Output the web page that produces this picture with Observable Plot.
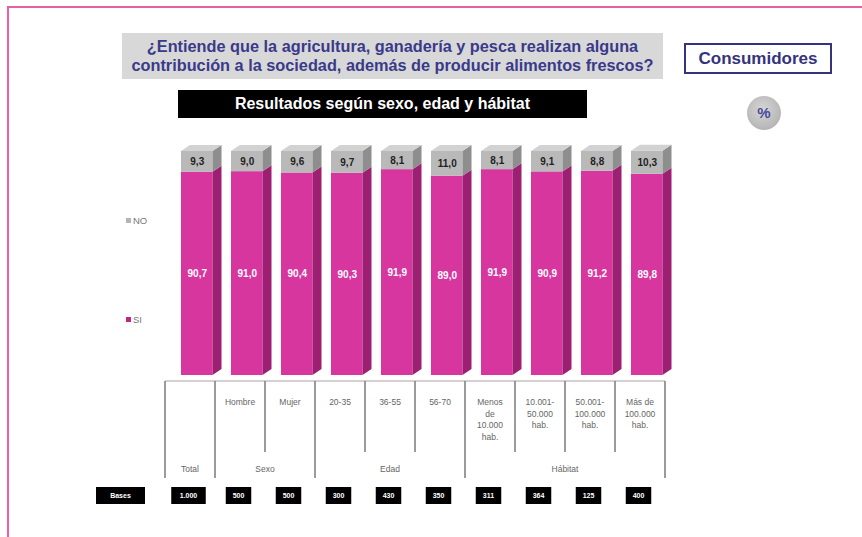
<!DOCTYPE html>
<html><head><meta charset="utf-8">
<script src="https://cdn.jsdelivr.net/npm/d3@7"></script>
<script src="https://cdn.jsdelivr.net/npm/@observablehq/plot@0.6"></script>
<style>
body{margin:0;background:#fff;font-family:"Liberation Sans",Arial,sans-serif;}
#wrap{position:relative;width:862px;height:537px;overflow:hidden;background:#fff;}
#chart{position:absolute;left:0;top:0;}
.abs{position:absolute;}
#frameTop{left:8px;top:6px;width:860px;height:2px;background:#ea5fa3;}
#frameLeft{left:7px;top:6px;width:2px;height:540px;background:#ea5fa3;}
#title{left:122px;top:33px;width:541px;height:46px;background:#d8d8d8;color:#3a3a8a;font-weight:bold;font-size:16.3px;line-height:19px;text-align:center;padding-top:4px;box-sizing:border-box;white-space:nowrap;}
#consum{left:684px;top:43px;width:148px;height:31px;border:2px solid #34347c;box-sizing:border-box;color:#34347c;font-weight:bold;font-size:17px;line-height:27px;text-align:center;}
#pct{left:747px;top:96px;width:34px;height:34px;border-radius:50%;background:radial-gradient(circle at 45% 40%,#d6d6d6,#a9a9a9);color:#4a4a9a;font-weight:bold;font-size:15px;line-height:34px;text-align:center;}
#banner{left:178px;top:90px;width:409px;height:28px;background:#000;color:#fff;font-weight:bold;font-size:16px;line-height:28px;text-align:center;}
.leg{font-size:9.5px;color:#777;}
.sw{display:inline-block;width:5px;height:5px;margin-right:2px;vertical-align:1px;}
</style>
</head><body>
<div id="wrap">
  <div id="chart"></div>
  <div class="abs" id="frameTop"></div>
  <div class="abs" id="frameLeft"></div>
  <div class="abs" id="title">¿Entiende que la agricultura, ganadería y pesca realizan alguna<br>contribución a la sociedad, además de producir alimentos frescos?</div>
  <div class="abs" id="consum">Consumidores</div>
  <div class="abs" id="pct">%</div>
  <div class="abs" id="banner">Resultados según sexo, edad y hábitat</div>
  <div class="abs leg" style="left:126px;top:215px;"><span class="sw" style="background:#b5b5b5"></span>NO</div>
  <div class="abs leg" style="left:126px;top:314px;"><span class="sw" style="background:#c0267f"></span>SI</div>
</div>
<script>
// ---- data ----
const categories = ["Total","Hombre","Mujer","20-35","36-55","56-70","Menos de 10.000 hab.","10.001-50.000 hab.","50.001-100.000 hab.","Más de 100.000 hab."];
const subLabels = ["", "Hombre", "Mujer", "20-35", "36-55", "56-70", "Menos\nde\n10.000\nhab.", "10.001-\n50.000\nhab.", "50.001-\n100.000\nhab.", "Más de\n100.000\nhab."];
const groups = [
  {label: "Total", start: 0, end: 0},
  {label: "Sexo", start: 1, end: 2},
  {label: "Edad", start: 3, end: 5},
  {label: "Hábitat", start: 6, end: 9}
];
const answers = ["SI", "NO"];
const siValues = [90.7, 91.0, 90.4, 90.3, 91.9, 89.0, 91.9, 90.9, 91.2, 89.8];
const noValues = [9.3, 9.0, 9.6, 9.7, 8.1, 11.0, 8.1, 9.1, 8.8, 10.3];
const bases = ["1.000", "500", "500", "300", "430", "350", "311", "364", "125", "400"];
const basesLabel = "Bases";

const PINK = "#d8369f", GREY = "#b9b9b9";

const rows = categories.flatMap((c, i) => [
  {cat: c, answer: "SI", value: siValues[i], mid: siValues[i] / 2},
  {cat: c, answer: "NO", value: noValues[i], mid: siValues[i] + noValues[i] / 2}
]);
const fmt = v => v.toFixed(1).replace(".", ",");

const insetL = 16, insetR = 2.5;
const chart = Plot.plot({
  width: 862, height: 537,
  marginLeft: 162, marginRight: 195, marginTop: 151, marginBottom: 162,
  style: {background: "transparent", fontFamily: "Liberation Sans, Arial, sans-serif"},
  x: {type: "band", domain: categories, padding: 0, axis: null},
  y: {domain: [0, 100], axis: null},
  color: {domain: answers, range: [PINK, GREY]},
  marks: [
    Plot.barY(rows, {x: "cat", y: "value", fill: "answer", insetLeft: insetL, insetRight: insetR}),
    Plot.text(rows, {x: "cat", y: "mid", text: d => fmt(d.value), dx: (insetL - insetR) / 2,
      fill: d => d.answer === "SI" ? "#ffffff" : "#222222", fontWeight: "bold", fontSize: 10})
  ]
});
document.getElementById("chart").appendChild(chart);

// ---- 3D faces derived from the drawn bars ----
const svg = d3.select(chart);
const D = 9, H = 6;
const rects = svg.selectAll('g[aria-label="bar"] rect').nodes();
rects.forEach(r => {
  const x = +r.getAttribute("x"), y = +r.getAttribute("y"), w = +r.getAttribute("width"), h = +r.getAttribute("height");
  const fill = r.getAttribute("fill");
  const isNo = d3.color(fill).formatHex() === d3.color(GREY).formatHex();
  const g = d3.select(r.parentNode);
  g.append("polygon")
    .attr("points", [[x + w, y], [x + w + D, y - H], [x + w + D, y + h - H], [x + w, y + h]].join(" "))
    .attr("fill", isNo ? "#8e8e8e" : "#9c1f72");
  if (isNo) {
    g.append("polygon")
      .attr("points", [[x, y], [x + D, y - H], [x + w + D, y - H], [x + w, y]].join(" "))
      .attr("fill", "#d2d2d2");
  }
});

// ---- table below, positioned with the x scale ----
const xs = chart.scale("x");
const bw = xs.bandwidth;
const bandStart = i => xs.apply(categories[i]);
const bandEnd = i => xs.apply(categories[i]) + bw;
const tbl = svg.append("g").attr("font-family", "Liberation Sans, Arial, sans-serif");
const TOP = 381, SHORT = 452, FULL = 478;
tbl.append("line").attr("x1", bandStart(0)).attr("x2", bandEnd(categories.length - 1))
  .attr("y1", TOP).attr("y2", TOP).attr("stroke", "#c9c0c6").attr("stroke-width", 1.5);
const groupEdges = new Set([0, ...groups.map(g => g.end + 1)]);
for (let i = 0; i <= categories.length; i++) {
  const x = i < categories.length ? bandStart(i) : bandEnd(categories.length - 1);
  tbl.append("line").attr("x1", x).attr("x2", x).attr("y1", TOP)
    .attr("y2", groupEdges.has(i) ? FULL : SHORT)
    .attr("stroke", "#7a7a7a").attr("stroke-width", 1.5);
}
subLabels.forEach((lab, i) => {
  if (!lab) return;
  const t = tbl.append("text").attr("x", bandStart(i) + bw / 2).attr("y", 405)
    .attr("text-anchor", "middle").attr("font-size", 8.5).attr("fill", "#666");
  lab.split("\n").forEach((ln, k) => t.append("tspan").attr("x", bandStart(i) + bw / 2).attr("dy", k ? 11.5 : 0).text(ln));
});
groups.forEach(g => {
  tbl.append("text").attr("x", (bandStart(g.start) + bandEnd(g.end)) / 2).attr("y", 472)
    .attr("text-anchor", "middle").attr("font-size", 8.5).attr("fill", "#666").text(g.label);
});
// bases row
const BY = 487, BH = 17;
const boxW = s => 12 + 4.5 * s.length;
tbl.append("rect").attr("x", 96).attr("y", BY).attr("width", 49).attr("height", BH).attr("fill", "#000");
tbl.append("text").attr("x", 120.5).attr("y", BY + BH / 2 + 2.5).attr("text-anchor", "middle")
  .attr("font-size", 7).attr("font-weight", "bold").attr("fill", "#fff").text(basesLabel);
bases.forEach((b, i) => {
  const cx = bandStart(i) + bw / 2 - 1.5;
  const w = boxW(b);
  tbl.append("rect").attr("x", cx - w / 2).attr("y", BY).attr("width", w).attr("height", BH).attr("fill", "#000");
  tbl.append("text").attr("x", cx).attr("y", BY + BH / 2 + 2.5).attr("text-anchor", "middle")
    .attr("font-size", 7).attr("font-weight", "bold").attr("fill", "#fff").text(b);
});
</script>
</body></html>
